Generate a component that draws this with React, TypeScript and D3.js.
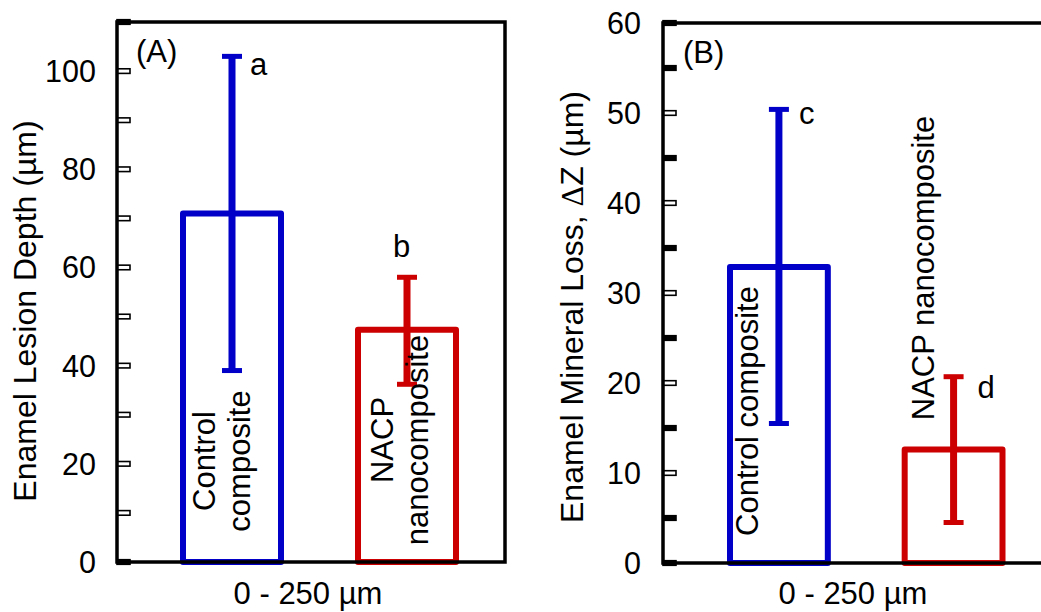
import React from "react";
import * as d3 from "d3";

// ---- data ----
const categories = ["Control composite", "NACP nanocomposite"];
const depthMean = [71, 47.3];
const depthLow = [39, 36.2];
const depthHigh = [103, 58];
const depthLetters = ["a", "b"];
const lossMean = [32.9, 12.6];
const lossLow = [15.5, 4.5];
const lossHigh = [50.4, 20.7];
const lossLetters = ["c", "d"];
const depthTicks = [0, 20, 40, 60, 80, 100];
const lossTicks = [0, 10, 20, 30, 40, 50, 60];
const xCategory = "0 - 250 µm";
const barLabelsA = [["Control", "composite"], ["NACP", "nanocomposite"]];
const barLabelsB = [["Control composite"], ["NACP nanocomposite"]];

const colors = ["#0000c8", "#cc0000"];
const FONT = "'Liberation Sans', Arial, Helvetica, sans-serif";

function Ticks({ y, x0, all, labeled, hollow, labelX }) {
  return (
    <g>
      {all.map((v) => {
        const yy = y(v);
        const h = hollow(v);
        return (
          <rect
            key={"t" + v}
            x={x0}
            y={yy - 2.3}
            width={13}
            height={4.6}
            fill={h ? "#fff" : "#000"}
            stroke="#000"
            strokeWidth={1.6}
          />
        );
      })}
      {labeled.map((v) => (
        <text
          key={"l" + v}
          x={labelX}
          y={y(v) + 11}
          textAnchor="end"
          fontSize={30.5}
          fontFamily={FONT}
        >
          {v}
        </text>
      ))}
    </g>
  );
}

function Bars({ x, y, means, lows, highs, letters, letterPos }) {
  const bw = x.bandwidth();
  return (
    <g>
      {categories.map((c, i) => {
        const x0 = x(c);
        const cx = x0 + bw / 2;
        return (
          <g key={c}>
            <rect
              x={x0}
              y={y(means[i])}
              width={bw}
              height={y(0) - y(means[i])}
              fill="none"
              stroke={colors[i]}
              strokeWidth={6}
              strokeLinejoin="round"
            />
            <line x1={cx} x2={cx} y1={y(lows[i])} y2={y(highs[i])} stroke={colors[i]} strokeWidth={7} />
            <line x1={cx - 10} x2={cx + 10} y1={y(lows[i])} y2={y(lows[i])} stroke={colors[i]} strokeWidth={5} />
            <line x1={cx - 10} x2={cx + 10} y1={y(highs[i])} y2={y(highs[i])} stroke={colors[i]} strokeWidth={5} />
            <text
              x={cx + letterPos[i][0]}
              y={y(highs[i]) + letterPos[i][1]}
              fontSize={31}
              fontFamily={FONT}
            >
              {letters[i]}
            </text>
          </g>
        );
      })}
    </g>
  );
}

export default function App() {
  // Panel A
  const yA = d3.scaleLinear().domain([0, 110]).range([562, 22]);
  const xA = d3.scaleBand().domain(categories).range([183, 456]).paddingInner(0.44);
  const axA = 117;
  const rA = 505;
  // Panel B
  const yB = d3.scaleLinear().domain([0, 60]).range([563, 23]);
  const xB = d3.scaleBand().domain(categories).range([730, 1002.5]).paddingInner(0.44);
  const axB = 663;
  const rB = 1046;

  const ticksA = d3.range(0, 111, 10);
  const ticksB = d3.range(0, 61, 5);

  const bwA = xA.bandwidth();
  const bwB = xB.bandwidth();

  return (
    <svg
      width={1041}
      height={612}
      style={{ position: "absolute", left: 0, top: 0, background: "#fff" }}
      fontFamily={FONT}
    >
      <rect width={1041} height={612} fill="#fff" />

      {/* ---------- Panel A ---------- */}
      <Bars
        x={xA}
        y={yA}
        means={depthMean}
        lows={depthLow}
        highs={depthHigh}
        letters={depthLetters}
        letterPos={[[18, 19], [-14, -20]]}
      />
      {barLabelsA.map((lines, i) =>
        lines.map((t, j) => {
          const cx = xA(categories[i]) + bwA / 2;
          const bx = i === 0 ? cx - 17 + j * 35 : cx - 14 + j * 35;
          const cy = i === 0 ? 461 : 440;
          return (
            <text
              key={"la" + i + j}
              transform={`translate(${bx},${cy}) rotate(-90)`}
              textAnchor="middle"
              fontSize={31}
            >
              {t}
            </text>
          );
        })
      )}
      <Ticks
        y={yA}
        x0={axA}
        all={ticksA}
        labeled={depthTicks}
        hollow={(v) => v !== 0 && v !== 110}
        labelX={96}
      />
      <rect x={axA} y={yA(110)} width={rA - axA} height={yA(0) - yA(110)} fill="none" stroke="#000" strokeWidth={3.5} />
      <text x={136} y={62} fontSize={31}>(A)</text>
      <text
        transform={`translate(36,311) rotate(-90)`}
        textAnchor="middle"
        fontSize={32}
      >
        Enamel Lesion Depth (µm)
      </text>
      <text x={308} y={604} textAnchor="middle" fontSize={31}>
        {xCategory}
      </text>

      {/* ---------- Panel B ---------- */}
      <Bars
        x={xB}
        y={yB}
        means={lossMean}
        lows={lossLow}
        highs={lossHigh}
        letters={lossLetters}
        letterPos={[[20, 15], [24, 21]]}
      />
      {barLabelsB.map((lines, i) =>
        lines.map((t, j) => {
          const cx = xB(categories[i]) + bwB / 2;
          const bx = i === 0 ? cx - 21 : cx - 20;
          const cy = i === 0 ? 411 : 268;
          return (
            <text
              key={"lb" + i + j}
              transform={`translate(${bx},${cy}) rotate(-90)`}
              textAnchor="middle"
              fontSize={31}
            >
              {t}
            </text>
          );
        })
      )}
      <Ticks
        y={yB}
        x0={axB}
        all={ticksB}
        labeled={lossTicks}
        hollow={(v) => v % 10 === 0 && v !== 0 && v !== 60}
        labelX={641}
      />
      <rect x={axB} y={yB(60)} width={rB - axB} height={yB(0) - yB(60)} fill="none" stroke="#000" strokeWidth={3.5} />
      <text x={683} y={63} fontSize={31}>(B)</text>
      <text
        transform={`translate(583,307) rotate(-90)`}
        textAnchor="middle"
        fontSize={32}
      >
        Enamel Mineral Loss,{" "}
        <tspan fontFamily="'Liberation Serif', 'Times New Roman', serif">Δ</tspan>Z (µm)
      </text>
      <text x={853} y={604} textAnchor="middle" fontSize={31}>
        {xCategory}
      </text>
    </svg>
  );
}
